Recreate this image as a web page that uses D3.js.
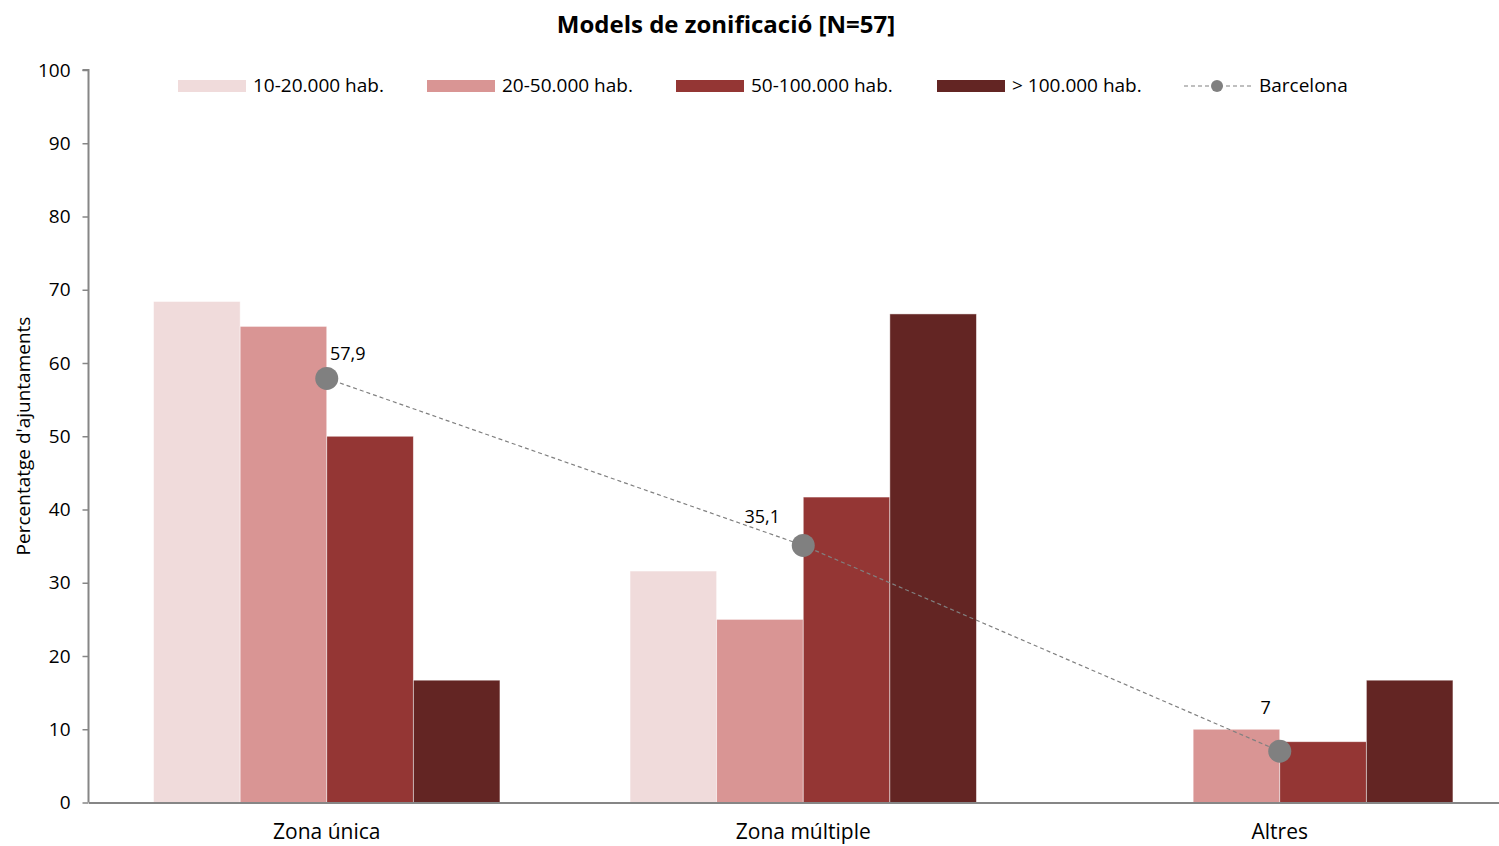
<!DOCTYPE html>
<html><head><meta charset="utf-8">
<script src="https://cdn.jsdelivr.net/npm/d3@7"></script>
<style>
body{margin:0;background:#fff;}
svg{display:block;font-family:"Open Sans","Noto Sans",sans-serif;}
</style></head>
<body>
<svg id="chart" width="1499" height="846"></svg>
<script>
const categories = ["Zona única", "Zona múltiple", "Altres"];
const seriesNames = ["10-20.000 hab.", "20-50.000 hab.", "50-100.000 hab.", "> 100.000 hab."];
const s1020 = [68.4, 31.6, 0];
const s2050 = [65.0, 25.0, 10.0];
const s50100 = [50.0, 41.7, 8.3];
const s100 = [16.7, 66.7, 16.7];
const barcelona = [57.9, 35.1, 7];
const barcelonaLabels = ["57,9", "35,1", "7"];
const yTicks = [0,10,20,30,40,50,60,70,80,90,100];
const colors = ["#F0DBDB", "#D99594", "#943634", "#632523"];

(function(){
const series = [s1020, s2050, s50100, s100];
const svg = d3.select("#chart");
const pLeft = 88.5, pRight = 1518, pTop = 70, pBottom = 802.5;

const x0 = d3.scaleBand().domain(categories).range([pLeft, pRight]);
const bw = x0.bandwidth();
const groupW = bw * 0.727;
const x1 = d3.scaleBand().domain(seriesNames).range([0, groupW]);
const y = d3.scaleLinear().domain([0, 100]).range([pBottom, pTop]);

svg.append("text").attr("x", 726).attr("y", 33).attr("text-anchor", "middle")
  .attr("font-size", 24).attr("font-weight", "bold").attr("fill", "#000")
  .text("Models de zonificació [N=57]");

categories.forEach((c, ci) => {
  const g = svg.append("g").attr("transform", `translate(${x0(c) + (bw - groupW)/2},0)`);
  seriesNames.forEach((s, si) => {
    const v = series[si][ci];
    if (v <= 0) return;
    g.append("rect")
      .attr("x", x1(s)).attr("width", x1.bandwidth())
      .attr("y", y(v)).attr("height", y(0) - y(v))
      .attr("fill", colors[si]).attr("stroke", "rgba(255,255,255,0.6)").attr("stroke-width", 0.8);
  });
});

const yAxis = svg.append("g").attr("transform", `translate(${pLeft},0)`)
  .call(d3.axisLeft(y).tickValues(yTicks).tickSize(6).tickPadding(12).tickFormat(d3.format("d")));
yAxis.select(".domain").attr("stroke", "#868686").attr("stroke-width", 2).attr("d", `M-6,${pTop}H0V${pBottom}`);
yAxis.selectAll(".tick line").attr("stroke", "#868686").attr("stroke-width", 1.5);
yAxis.selectAll(".tick text").attr("font-size", 19).attr("fill", "#000").attr("font-family", "Open Sans");

const xAxis = svg.append("g").attr("transform", `translate(0,${pBottom})`)
  .call(d3.axisBottom(x0).tickSize(0).tickPadding(22));
xAxis.select(".domain").attr("stroke", "#868686").attr("stroke-width", 2);
xAxis.selectAll(".tick text").attr("font-size", 21).attr("fill", "#000").attr("font-family", "Open Sans");

svg.append("text").attr("transform", "translate(30,436) rotate(-90)")
  .attr("text-anchor", "middle").attr("font-size", 19).attr("fill", "#000")
  .text("Percentatge d'ajuntaments");

const bx = c => x0(c) + bw/2;
const line = d3.line().x((d, i) => bx(categories[i])).y(d => y(d));
svg.append("path").datum(barcelona).attr("d", line)
  .attr("fill", "none").attr("stroke", "#808080").attr("stroke-width", 1.2).attr("stroke-dasharray", "4,3");
svg.selectAll("circle.bcn").data(barcelona).enter().append("circle")
  .attr("cx", (d, i) => bx(categories[i])).attr("cy", d => y(d)).attr("r", 11.5).attr("fill", "#808080");
const labOff = [[21, -18], [-41, -22], [-14, -37]];
svg.selectAll("text.bcn").data(barcelona).enter().append("text")
  .attr("x", (d, i) => bx(categories[i]) + labOff[i][0]).attr("y", (d, i) => y(d) + labOff[i][1])
  .attr("text-anchor", "middle").attr("font-size", 18).attr("fill", "#000")
  .text((d, i) => barcelonaLabels[i]);

const legX = [178, 427, 676, 937];
seriesNames.forEach((s, i) => {
  svg.append("rect").attr("x", legX[i]).attr("y", 80).attr("width", 68).attr("height", 12).attr("fill", colors[i]);
  svg.append("text").attr("x", legX[i] + 75).attr("y", 92).attr("font-size", 19).attr("fill", "#000").text(s);
});
svg.append("line").attr("x1", 1184).attr("x2", 1251).attr("y1", 86).attr("y2", 86)
  .attr("stroke", "#808080").attr("stroke-width", 1.2).attr("stroke-dasharray", "4,3");
svg.append("circle").attr("cx", 1217).attr("cy", 86).attr("r", 6).attr("fill", "#808080");
svg.append("text").attr("x", 1259).attr("y", 92).attr("font-size", 19).attr("fill", "#000").text("Barcelona");
})();
</script>
</body></html>
